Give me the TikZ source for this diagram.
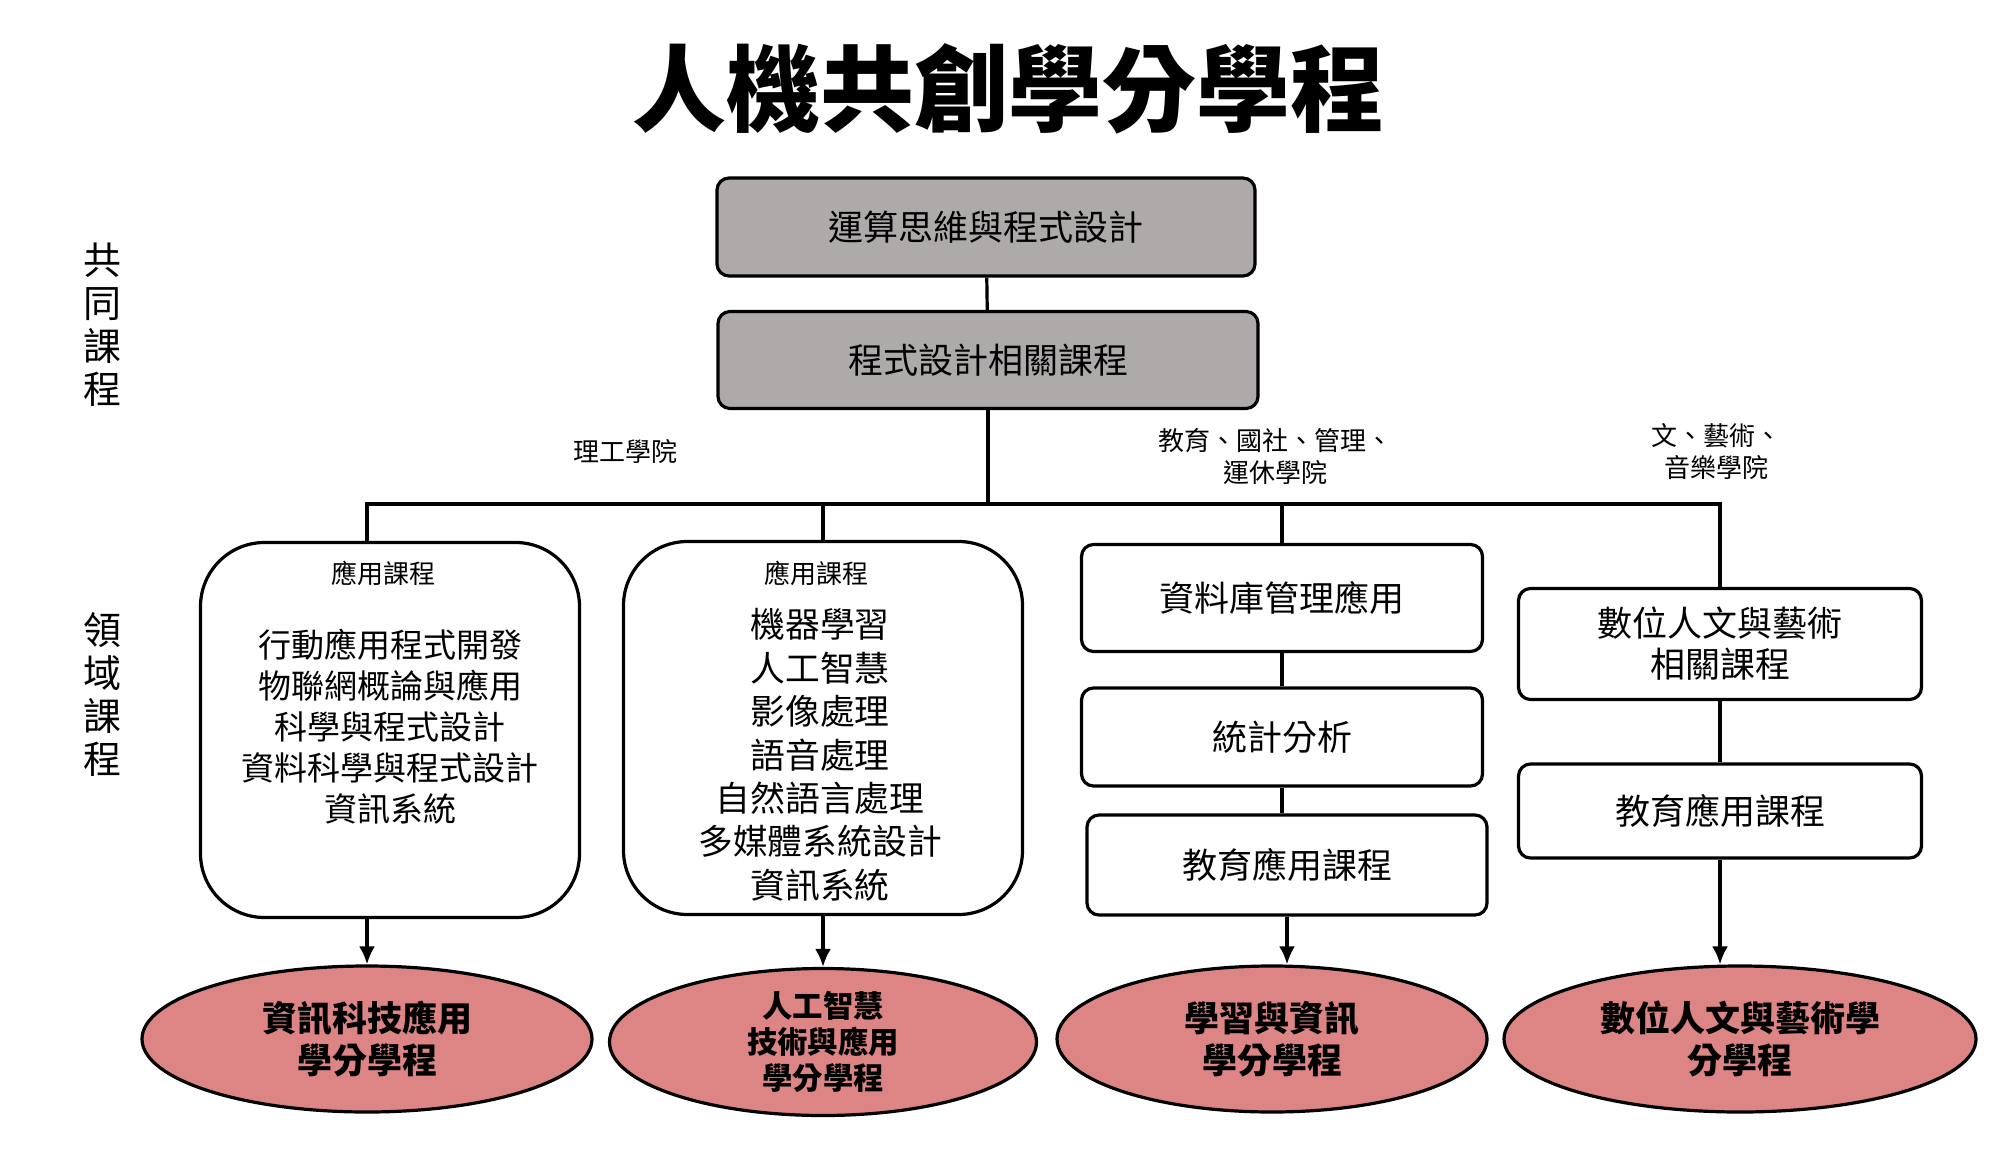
\documentclass[tikz,border=0pt]{standalone}
\usepackage{fontspec}
\setmainfont{Noto Sans CJK TC}
\usetikzlibrary{arrows.meta,positioning,shapes.geometric}
\definecolor{boxgray}{RGB}{174,170,170}
\definecolor{goalred}{RGB}{221,133,133}
\tikzset{
  core/.style={draw,line width=1.6pt,fill=boxgray,rounded corners=6pt,minimum width=269pt,minimum height=49pt,font=\fontsize{17.5}{21}\selectfont},
  field/.style={draw,line width=1.6pt,fill=white,rounded corners=32pt},
  course/.style={draw,line width=1.6pt,fill=white,rounded corners=6pt,minimum width=200.5pt,align=center,font=\fontsize{17.5}{20.5}\selectfont},
  goal/.style={ellipse,draw,line width=1.6pt,fill=goalred,inner sep=0pt,minimum height=73pt,align=center,font=\bfseries\fontsize{17.5}{21}\selectfont},
  hdr/.style={font=\fontsize{13}{15}\selectfont},
  college/.style={align=center,font=\fontsize{13}{16}\selectfont},
  side/.style={align=center,font=\fontsize{19}{21.5}\selectfont},
  link/.style={line width=1.6pt},
  feed/.style={line width=1.6pt,-{Latex[length=9pt,width=8pt]}}
}

\begin{document}
\begin{tikzpicture}[x=0.5pt,y=-0.5pt]
  \useasboundingbox (0,0) rectangle (2000,1171);
  \node[font=\bfseries\fontsize{47}{50}\selectfont] (title) at (1008,89) {人機共創學分學程};
  % common courses
  \node[side] (sideA) at (102,325) {共\\同\\課\\程};
  \node[side] (sideB) at (102,694) {領\\域\\課\\程};
  \node[core] (core1) at (986,227) {運算思維與程式設計};
  \node[core,minimum width=270pt,minimum height=48.5pt] (core2) at (988,360) {程式設計相關課程};
  % colleges
  \node[college] (colA) at (625,452) {理工學院};
  \node[college] (colC) at (1275,456) {教育、國社、管理、\\運休學院};
  \node[college] (colD) at (1716,452) {文、藝術、\\音樂學院};
  % field courses
  \node[field,minimum width=189.5pt,minimum height=187.5pt] (fldA) at (390,730) {};
  \node[hdr] (hdA) at (383,573) {應用課程};
  \node[align=center,font=\fontsize{16.5}{20.5}\selectfont] (lstA) at (390,727) {行動應用程式開發\\物聯網概論與應用\\科學與程式設計\\資料科學與程式設計\\資訊系統};
  \node[field,minimum width=199.5pt,minimum height=186.5pt] (fldB) at (823,728) {};
  \node[hdr] (hdB) at (816,573) {應用課程};
  \node[align=center,font=\fontsize{17.4}{21.7}\selectfont] (lstB) at (820,755) {機器學習\\人工智慧\\影像處理\\語音處理\\自然語言處理\\多媒體系統設計\\資訊系統};
  \node[course,minimum height=53.5pt] (crsC1) at (1282,598) {資料庫管理應用};
  \node[course,minimum height=49pt] (crsC2) at (1282,737) {統計分析};
  \node[course,minimum width=200pt,minimum height=50pt] (crsC3) at (1287,865) {教育應用課程};
  \node[course,minimum width=201.5pt,minimum height=55.5pt] (crsD1) at (1720,644) {數位人文與藝術\\相關課程};
  \node[course,minimum width=201.5pt,minimum height=47pt] (crsD2) at (1720,811) {教育應用課程};
  % programs
  \node[goal,minimum width=225pt] (goalA) at (367,1039) {資訊科技應用\\學分學程};
  \node[goal,minimum width=213.5pt,minimum height=73.5pt,font=\bfseries\fontsize{15.2}{18}\selectfont] (goalB) at (823,1042) {人工智慧\\技術與應用\\學分學程};
  \node[goal,minimum width=215pt] (goalC) at (1272,1039) {學習與資訊\\學分學程};
  \node[goal,minimum width=236pt] (goalD) at (1740,1039) {數位人文與藝術學\\分學程};
  % connectors
  \coordinate (bus) at (0,504);
  \draw[link] (core1) -- (core2);
  \draw[link] (core2.south) -- (core2.south |- bus);
  \draw[link] (goalA.north |- fldA.north) -- (goalA.north |- bus) -- (crsD1.north |- bus) -- (crsD1.north);
  \draw[link] (fldB.north |- bus) -- (fldB.north);
  \draw[link] (crsC1.north |- bus) -- (crsC1.north);
  \draw[link] (crsC1) -- (crsC2);
  \draw[link] (crsC2.south) -- (crsC2.south |- crsC3.north);
  \draw[link] (crsD1) -- (crsD2);
  \draw[feed] (goalA.north |- fldA.south) -- (goalA.north);
  \draw[feed] (fldB.south) -- (goalB.north);
  \draw[feed] (crsC3.south) -- (crsC3.south |- goalC.north);
  \draw[feed] (crsD2.south) -- (crsD2.south |- goalD.north);
\end{tikzpicture}
\end{document}
